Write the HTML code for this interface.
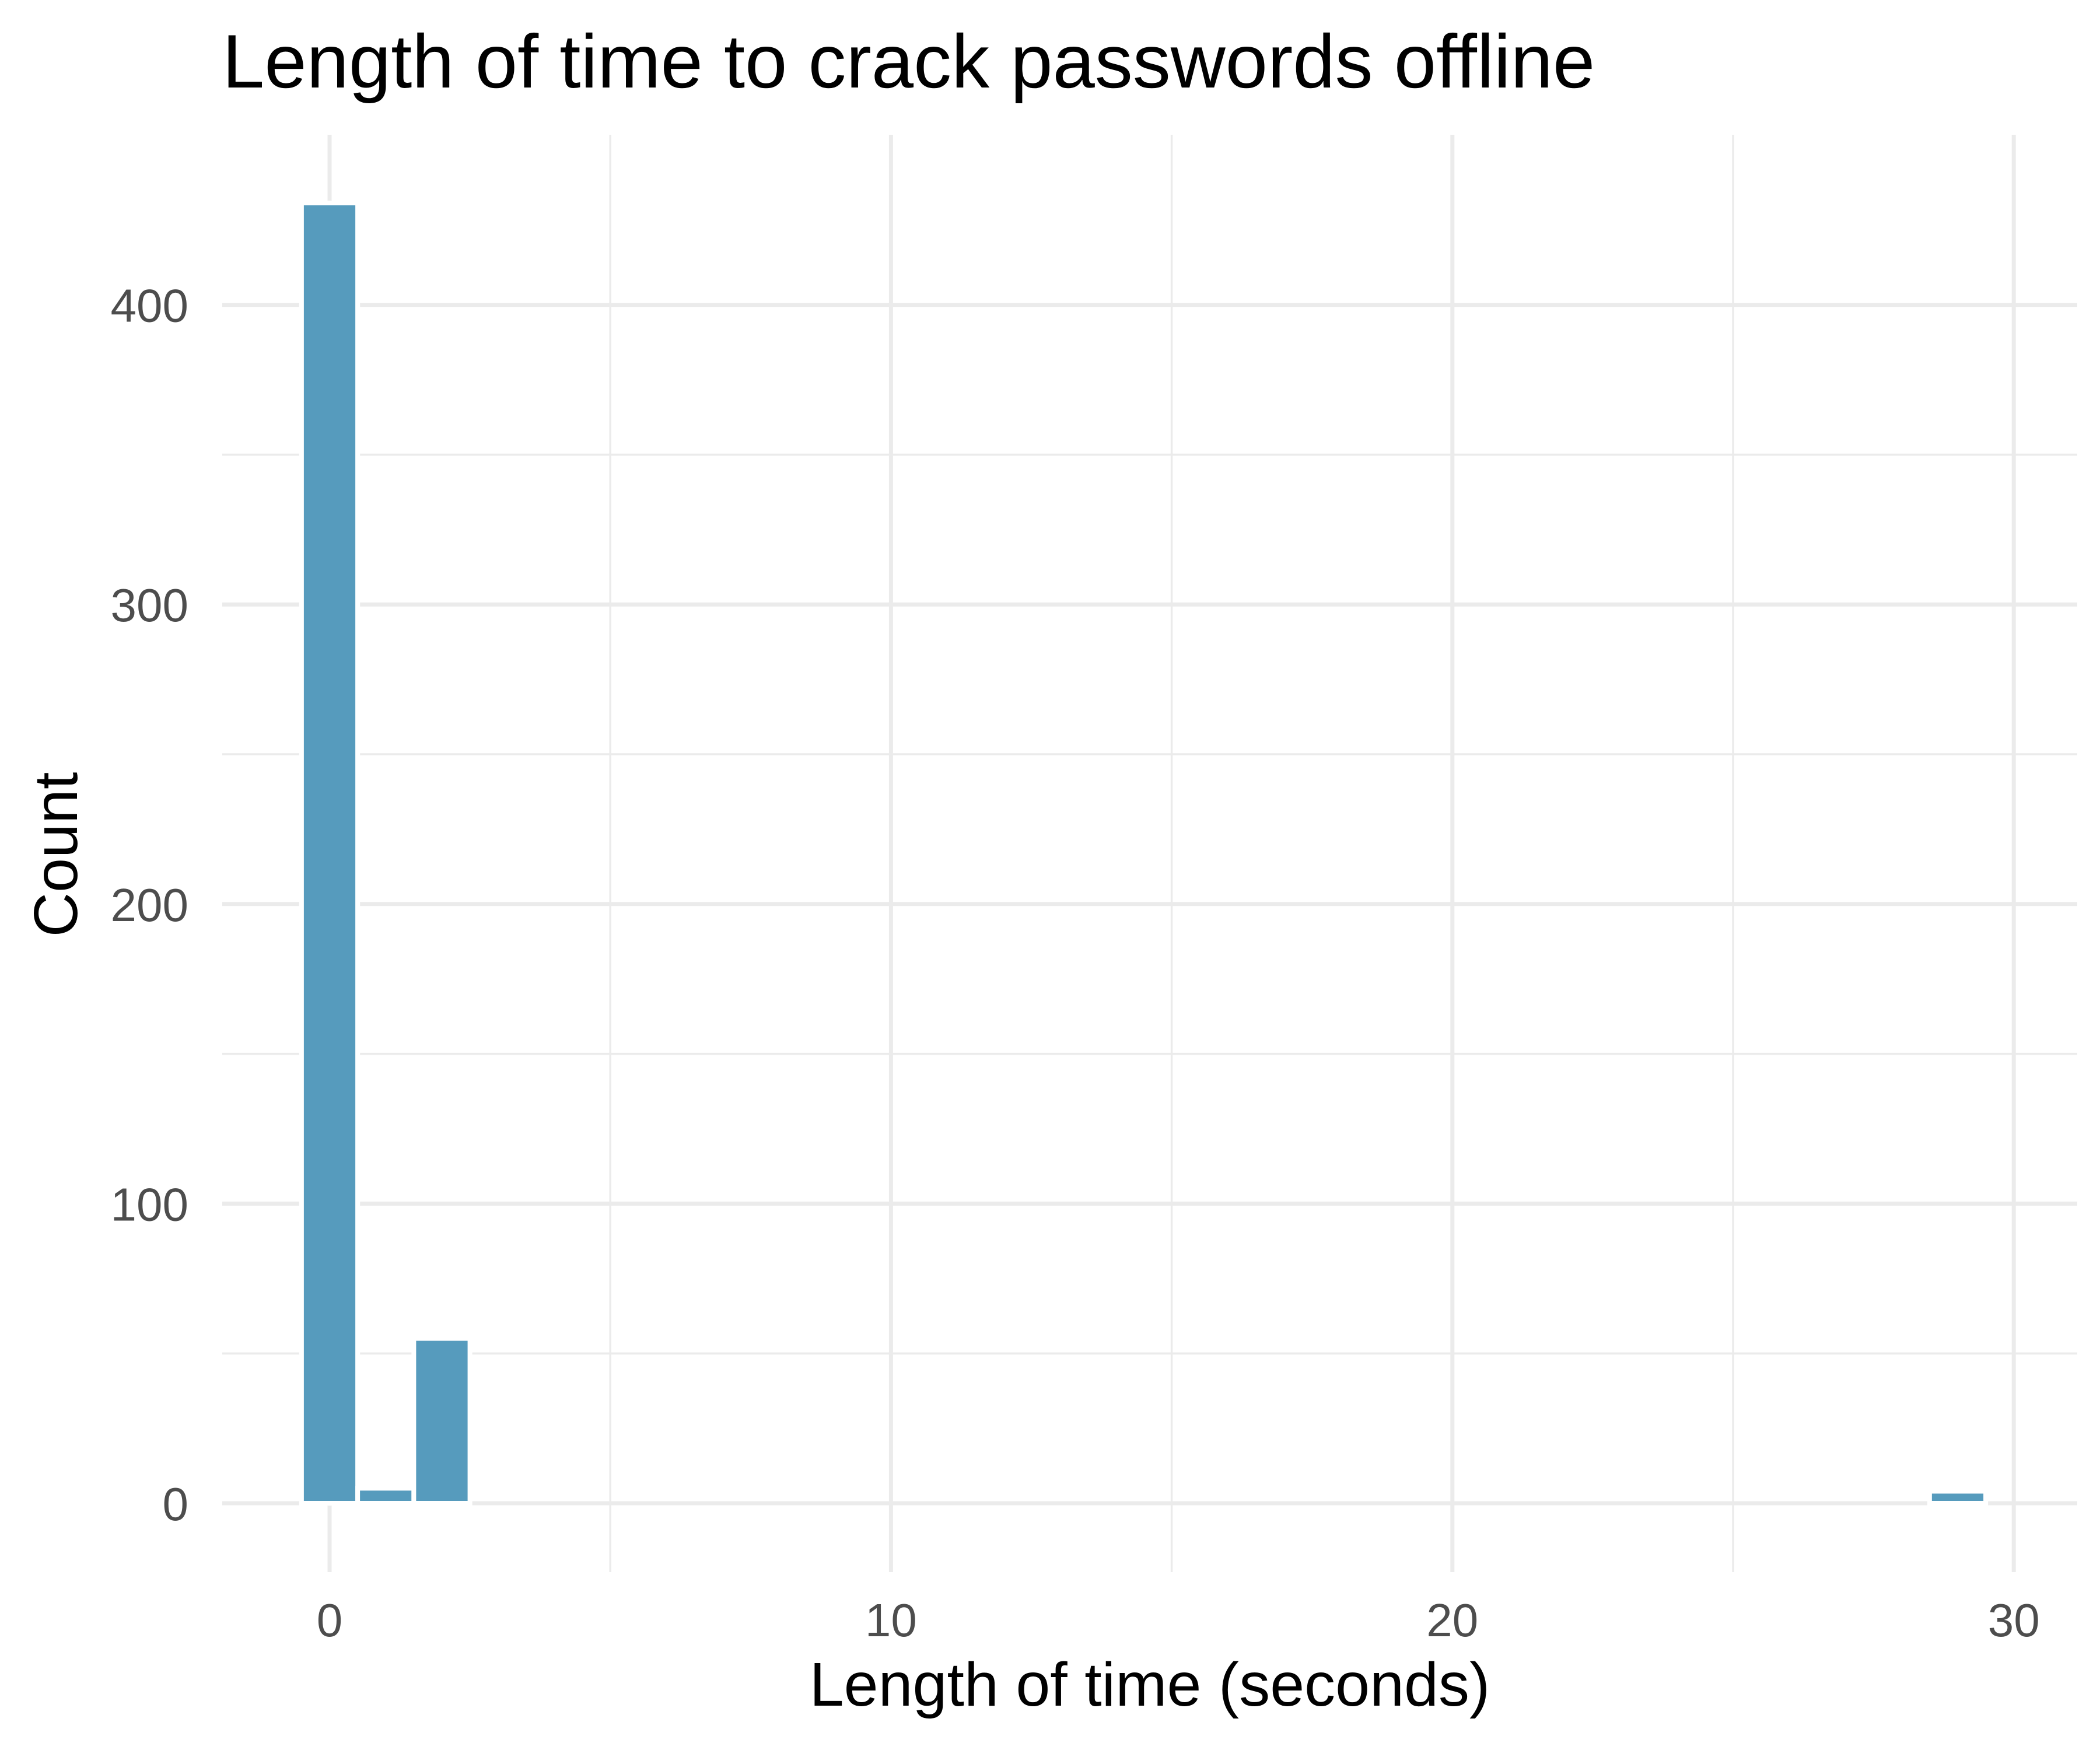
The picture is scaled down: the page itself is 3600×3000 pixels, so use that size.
<!DOCTYPE html>
<html><head><meta charset="utf-8"><style>
html,body{margin:0;padding:0;background:#fff;}
svg{display:block;font-family:"Liberation Sans",Arial,sans-serif;}
</style></head><body>
<svg id="chart" width="3600" height="3000" viewBox="0 0 3600 3000" xmlns="http://www.w3.org/2000/svg">
<rect width="3600" height="3000" fill="#fff"/>
<g id="grid"></g>
<g id="bars"></g>
<g id="ticks"></g>
<text x="381" y="150" font-size="130" fill="#000">Length of time to crack passwords offline</text>
<text x="1971" y="2924" font-size="106" fill="#000" text-anchor="middle">Length of time (seconds)</text>
<text x="132" y="1465" font-size="106" fill="#000" text-anchor="middle" transform="rotate(-90 132 1465)">Count</text>
</svg>
<script>
const binCenters = [0, 1, 2, 29];
const counts = [434, 5, 55, 4];
const binWidth = 1;
const xTicks = [0, 10, 20, 30];
const xMinor = [5, 15, 25];
const yTicks = [0, 100, 200, 300, 400];
const yMinor = [50, 150, 250, 350];

const NS = "http://www.w3.org/2000/svg";
const X0 = 565, XS = 96.24;
const Y0 = 2577, YS = 5.136;
const PL = 381, PR = 3561, PT = 231, PB = 2695;
function xs(v){ return X0 + v * XS; }
function ys(v){ return Y0 - v * YS; }
function mk(tag, attrs, parent){ const e = document.createElementNS(NS, tag); for (const k in attrs) e.setAttribute(k, attrs[k]); parent.appendChild(e); return e; }

const grid = document.getElementById('grid');
const bars = document.getElementById('bars');
const ticks = document.getElementById('ticks');

yMinor.forEach(v => {
  const l = mk('line', {x1: PL, x2: PR, y1: ys(v), y2: ys(v), stroke: '#ebebeb', 'stroke-width': 3.5}, grid);
  
  
});
xMinor.forEach(v => {
  const l = mk('line', {x1: xs(v), x2: xs(v), y1: PT, y2: PB, stroke: '#ebebeb', 'stroke-width': 3.5}, grid);
  
  
});
yTicks.forEach(v => {
  const l = mk('line', {x1: PL, x2: PR, y1: ys(v), y2: ys(v), stroke: '#ebebeb', 'stroke-width': 7}, grid);
  
  
  const t = mk('text', {x: 323, y: ys(v) + 29, 'font-size': 80, fill: '#4d4d4d', 'text-anchor': 'end'}, ticks);
  t.textContent = v;
  
  
});
xTicks.forEach(v => {
  const l = mk('line', {x1: xs(v), x2: xs(v), y1: PT, y2: PB, stroke: '#ebebeb', 'stroke-width': 7}, grid);
  
  
  const t = mk('text', {x: xs(v), y: 2805, 'font-size': 80, fill: '#4d4d4d', 'text-anchor': 'middle'}, ticks);
  t.textContent = v;
  
  
});
binCenters.forEach((c, i) => {
  const x1 = xs(c - binWidth / 2), x2 = xs(c + binWidth / 2);
  const yt = ys(counts[i]), yb = ys(0);
  const r = mk('rect', {x: x1, y: yt, width: x2 - x1, height: yb - yt, fill: '#569bbd', stroke: '#fff', 'stroke-width': 8}, bars);
  
  
});
</script>
</body></html>
